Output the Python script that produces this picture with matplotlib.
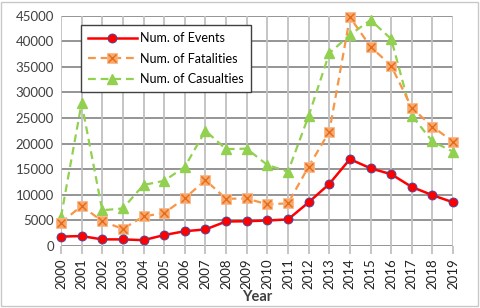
import matplotlib
matplotlib.use("Agg")
import matplotlib.pyplot as plt
from matplotlib.legend_handler import HandlerTuple
from matplotlib.patches import Rectangle

years = list(range(2000, 2020))
events = [1800, 1900, 1250, 1250, 1100, 2100, 2850, 3200, 4750, 4800,
          4950, 5150, 8500, 12100, 16950, 15150, 14000, 11500, 9900, 8500]
fatalities = [4500, 7800, 4800, 3300, 5750, 6400, 9300, 12850, 9200, 9250,
              8100, 8300, 15500, 22300, 44700, 38950, 35200, 26950, 23300, 20350]
casualties = [5650, 27900, 6950, 7300, 11900, 12700, 15450, 22500, 18900, 19000,
              15800, 14500, 25400, 37650, 41250, 44150, 40450, 25450, 20400, 18400]
year_labels = [str(y) for y in years]
y_ticks = list(range(0, 45001, 5000))

plt.rcParams['font.family'] = ['Lato', 'DejaVu Sans']

fig = plt.figure(figsize=(4.8, 3.08), dpi=100)
fig.patches.append(Rectangle((0.003, 0.005), 0.993, 0.99, transform=fig.transFigure,
                             fill=False, edgecolor='#c8c8c8', linewidth=1.0))
ax = fig.add_axes([0.127, 0.202, 0.817, 0.747])

ax.set_xlim(2000, 2019)
ax.set_ylim(0, 45000)
ax.set_yticks(y_ticks)
ax.set_yticklabels([str(v) for v in y_ticks])
ax.set_xticks(years)
ax.set_xticklabels(year_labels, rotation=90)

for v in y_ticks:
    ax.axhline(v, color='#8c8c8c', linewidth=1.3, zorder=1)
for y in years:
    ax.axvline(y, color='#c0c0c0', linewidth=1.3, zorder=1)

for s in ax.spines.values():
    s.set_visible(False)
ax.tick_params(axis='y', length=0, pad=5, labelsize=9.5, labelcolor='#404040')
ax.tick_params(axis='x', length=6, width=1.3, color='#c0c0c0', pad=3,
               labelsize=9.5, labelcolor='#202020')

l1, = ax.plot(years, events, color='#ff0000', linewidth=1.8, marker='o', markersize=6.5,
              markerfacecolor='#ff0000', markeredgecolor='#3050b0', markeredgewidth=0.6,
              zorder=5, clip_on=False)
l2, = ax.plot(years, fatalities, color='#f79646', linewidth=1.6, linestyle=(0, (3.5, 2.2)),
              marker='s', markersize=7, markerfacecolor='#f9a76a', markeredgecolor='#f9b98a',
              markeredgewidth=0.6, zorder=4, clip_on=False)
l2x, = ax.plot(years, fatalities, linestyle='none', marker='x', markersize=6,
               markeredgecolor='#e46c1a', markeredgewidth=1.0, zorder=4.5, clip_on=False)
l3, = ax.plot(years, casualties, color='#92d050', linewidth=1.6, linestyle=(0, (3.5, 2.2)),
              marker='^', markersize=7, markerfacecolor='#92d050', markeredgecolor='#92d050',
              zorder=3, clip_on=False)

leg = ax.legend([l1, (l2, l2x), l3],
                ['Num. of Events', 'Num. of Fatalities', 'Num. of Casualties'],
                handler_map={tuple: HandlerTuple(ndivide=1)},
                loc='upper left', bbox_to_anchor=(0.035, 0.985), fontsize=9,
                frameon=True, fancybox=False, edgecolor='#404040', framealpha=1,
                handlelength=3.9, borderpad=0.55, labelspacing=0.68, handletextpad=0.3)
leg.get_frame().set_linewidth(1.0)

ax.set_xlabel('Year', fontsize=10.5, fontweight='bold', color='#404040', labelpad=1)

fig.savefig('out.png', dpi=100)
